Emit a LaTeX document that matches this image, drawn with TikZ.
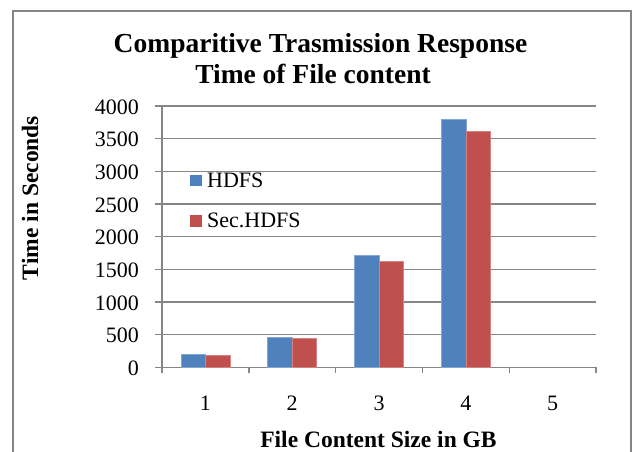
\documentclass[tikz,border=0pt]{standalone}
\usepackage{fontspec}
\setmainfont{Liberation Serif}
\definecolor{hblue}{HTML}{4F81BD}
\definecolor{hred}{HTML}{C0504D}
\definecolor{gridgray}{HTML}{868686}
\begin{document}
\begin{tikzpicture}[x=1pt,y=-1pt,
  gridline/.style={gridgray,line width=1.4pt},
  ticklab/.style={inner sep=0pt,font=\fontsize{22}{24}\selectfont},
  axtitle/.style={inner sep=0pt,font=\fontsize{23.5}{26}\selectfont\bfseries},
  titletext/.style={inner sep=0pt,font=\fontsize{27.5}{30}\selectfont\bfseries},
  legtext/.style={inner sep=0pt,anchor=base west,font=\fontsize{22}{24}\selectfont},
  bluebar/.style={fill=hblue,draw=hblue!70!white,line width=0.5pt},
  redbar/.style={fill=hred,draw=hred!70!white,line width=0.5pt}]
\useasboundingbox (0,0) rectangle (633,452);
\fill[white] (0,0) rectangle (633,452);
\begin{scope}
\clip (0,0) rectangle (633,452);
\draw[gridgray,line width=2pt] (12.5,11) rectangle (630.5,480);
\end{scope}
% title
\node[titletext,anchor=base] (t1) at (320.5,53) {Comparitive Trasmission Response};
\node[titletext,anchor=base] (t2) at (313,83.5) {Time of File content};
% gridlines and y labels
\foreach \v in {500,1000,...,4000}{
  \pgfmathsetmacro{\yy}{367.4-\v*0.06535}
  \draw[gridline] (155,\yy) -- (596,\yy);
}
\foreach \v/\nm in {0/l0,500/l1,1000/l2,1500/l3,2000/l4,2500/l5,3000/l6,3500/l7,4000/l8}{
  \pgfmathsetmacro{\yy}{367.4-\v*0.06535+1}
  \node[ticklab,anchor=east] (\nm) at (139,\yy) {\v};
}
% axes
\draw[gridline] (155,367.4) -- (596,367.4);
\draw[gridline] (162,106) -- (162,372.5);
\foreach \i in {1,...,5}{
  \pgfmathsetmacro{\xx}{162+86.8*\i}
  \draw[gridline] (\xx,367.4) -- (\xx,372.5);
}
% bars
\foreach \i/\b/\r in {1/205/190,2/462/443,3/1720/1628,4/3800/3613}{
  \pgfmathsetmacro{\cc}{162+86.8*(\i-0.5)}
  \pgfmathsetmacro{\yb}{367.4-\b*0.06535}
  \pgfmathsetmacro{\yr}{367.4-\r*0.06535}
  \draw[bluebar] (\cc-24.5,367) rectangle (\cc,\yb);
  \draw[redbar] (\cc,367) rectangle (\cc+24.5,\yr);
}
% x tick labels
\foreach \i in {1,...,5}{
  \pgfmathsetmacro{\cc}{162+86.8*(\i-0.5)}
  \node[ticklab] (x\i) at (\cc,403.5) {\i};
}
% axis titles
\node[axtitle,rotate=90] (ytitle) at (30,198) {Time in Seconds};
\node[axtitle,anchor=base] (xtitle) at (378.5,447) {File Content Size in GB};
% legend
\fill[hblue] (190,175) rectangle (202,186.5);
\node[legtext] (lh) at (207,187) {HDFS};
\fill[hred] (190,215) rectangle (202,226.5);
\node[legtext] (lr) at (207,227) {Sec.HDFS};
\end{tikzpicture}
\end{document}
